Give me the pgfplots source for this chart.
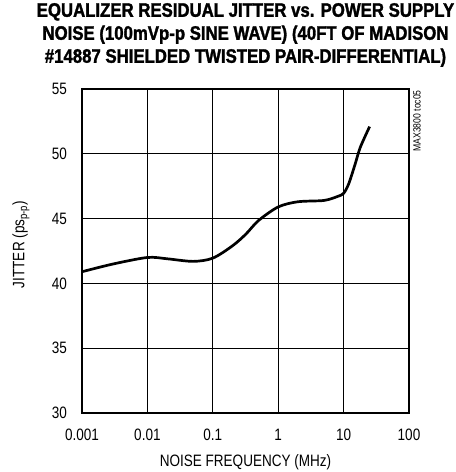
\documentclass[border=0pt]{standalone}
\usepackage{pgfplots}
\pgfplotsset{compat=1.18}
\usepackage{fontspec}
\setmainfont[FakeStretch=0.82]{Liberation Sans}
\newfontfamily\titlefont[FakeStretch=0.86, BoldFeatures={FakeBold=1.6}]{Liberation Sans}

\begin{document}
\begin{tikzpicture}
\begin{axis}[
    width=327pt, height=324pt,
    scale only axis,
    xmode=log,
    xmin=0.001, xmax=100,
    ymin=30, ymax=55,
    xtick={0.001,0.01,0.1,1,10,100},
    xticklabels={0.001,0.01,0.1,1,10,100},
    ytick={30,35,40,45,50,55},
    /pgf/number format/assume math mode=true,
    tick label style={font=\fontsize{16.5}{18}\selectfont, inner sep=0pt},
    xticklabel style={anchor=north, yshift=-16pt},
    yticklabel style={anchor=east, xshift=-15pt},
    xlabel={NOISE FREQUENCY (MHz)},
    every axis x label/.style={at={([yshift=-41pt]rel axis cs:0.5,0)}, anchor=north, inner sep=0pt, font=\fontsize{16.5}{18}\selectfont},
    ylabel={JITTER (ps\textsubscript{p-p})},
    every axis y label/.style={at={([xshift=-61pt]rel axis cs:0,0.52)}, rotate=90, anchor=center, inner sep=0pt, font=\fontsize{16.5}{18}\selectfont},
    title={EQUALIZER RESIDUAL JITTER vs. POWER SUPPLY\\NOISE (100mVp-p SINE WAVE) (40FT OF MADISON\\\#14887 SHIELDED TWISTED PAIR-DIFFERENTIAL)},
    every axis title/.style={at={([yshift=22pt]rel axis cs:0.5,1)}, anchor=south, inner sep=0pt, align=center, font=\titlefont\bfseries\fontsize{19.5}{23}\selectfont},
    grid=major,
    major grid style={black, line width=0.9pt},
    axis line style={black, line width=2.4pt},
    tick style={draw=none},
    clip=false,
]
\addplot[black, line width=2.7pt, smooth, tension=0.5] coordinates {
    (0.001,40.9) (0.003,41.5) (0.01,42.0) (0.02,41.9) (0.05,41.7) (0.1,41.95)
    (0.2,42.9) (0.32,43.8) (0.5,44.85) (1,45.9) (2,46.3) (5,46.4) (8,46.7)
    (10,46.95) (12,47.7) (15,49.2) (18,50.5) (25,52.1)
};
\node[rotate=90, anchor=east, inner sep=0pt, font=\fontsize{10.5}{12}\selectfont] at ([xshift=8pt,yshift=-1pt]rel axis cs:1,1) {MAX3800 toc05};
\path (rel axis cs:-0.2508,-0.1821) rectangle (rel axis cs:1.1407,1.2747);
\end{axis}
\end{tikzpicture}
\end{document}
